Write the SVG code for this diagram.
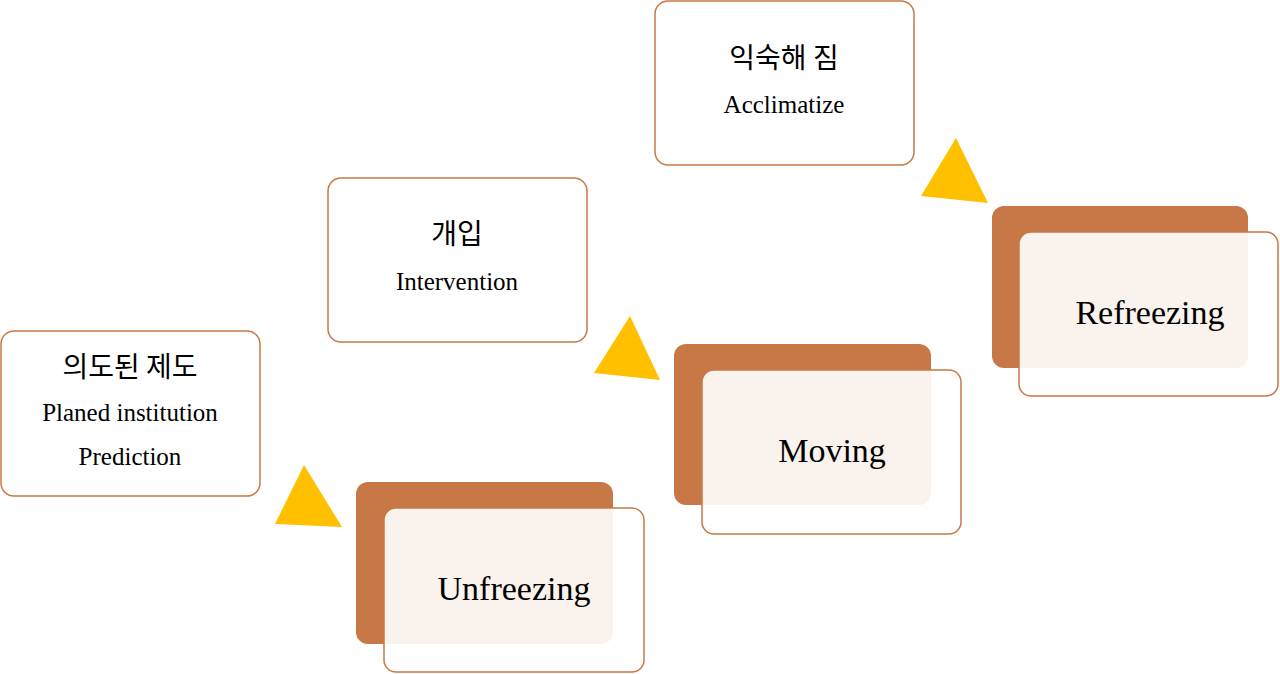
<svg xmlns="http://www.w3.org/2000/svg" width="1280" height="674" viewBox="0 0 1280 674">
<style>
.box{fill:#fff;stroke:#C87846;stroke-width:1.5}
.back{fill:#C87846}
.front{fill:#fff;fill-opacity:0.9;stroke:#C87846;stroke-width:1.5}
.tri{fill:#FFC000}
.ko{font-family:"Noto Sans CJK KR","Noto Sans",sans-serif;font-size:28px;fill:#000;text-anchor:middle}
.en{font-family:"Liberation Serif",serif;font-size:25px;fill:#000;text-anchor:middle}
.big{font-family:"Liberation Serif",serif;font-size:34px;fill:#000;text-anchor:middle}
</style>
<rect width="1280" height="674" fill="#fff"/>
<g id="box1"><rect class="box" x="1" y="331" width="259" height="165" rx="13"/>
<text class="ko" x="130" y="377">의도된 제도</text>
<text class="en" x="130" y="421">Planed institution</text>
<text class="en" x="130" y="465">Prediction</text></g>
<g id="box2"><rect class="box" x="328" y="178" width="259" height="164" rx="13"/>
<text class="ko" x="457" y="244">개입</text>
<text class="en" x="457" y="290">Intervention</text></g>
<g id="box3"><rect class="box" x="655" y="1" width="259" height="164" rx="13"/>
<text class="ko" x="784" y="68">익숙해 짐</text>
<text class="en" x="784" y="113">Acclimatize</text></g>
<g id="unfreezing"><rect class="back" x="356" y="482" width="257" height="162" rx="12"/>
<rect class="front" x="384" y="508" width="260" height="164" rx="12"/>
<text class="big" x="514" y="600">Unfreezing</text></g>
<g id="moving"><rect class="back" x="674" y="344" width="257" height="161" rx="12"/>
<rect class="front" x="702" y="370" width="259" height="164" rx="12"/>
<text class="big" x="832" y="462">Moving</text></g>
<g id="refreezing"><rect class="back" x="992" y="206" width="256" height="162" rx="12"/>
<rect class="front" x="1019" y="232" width="259" height="164" rx="12"/>
<text class="big" x="1150" y="324">Refreezing</text></g>
<g id="connectors">
<polygon class="tri" points="275,524 304,465 342,527"/>
<polygon class="tri" points="594,373 630,316 660,380"/>
<polygon class="tri" points="921,196 956,138 988,203"/>
</g>
</svg>
